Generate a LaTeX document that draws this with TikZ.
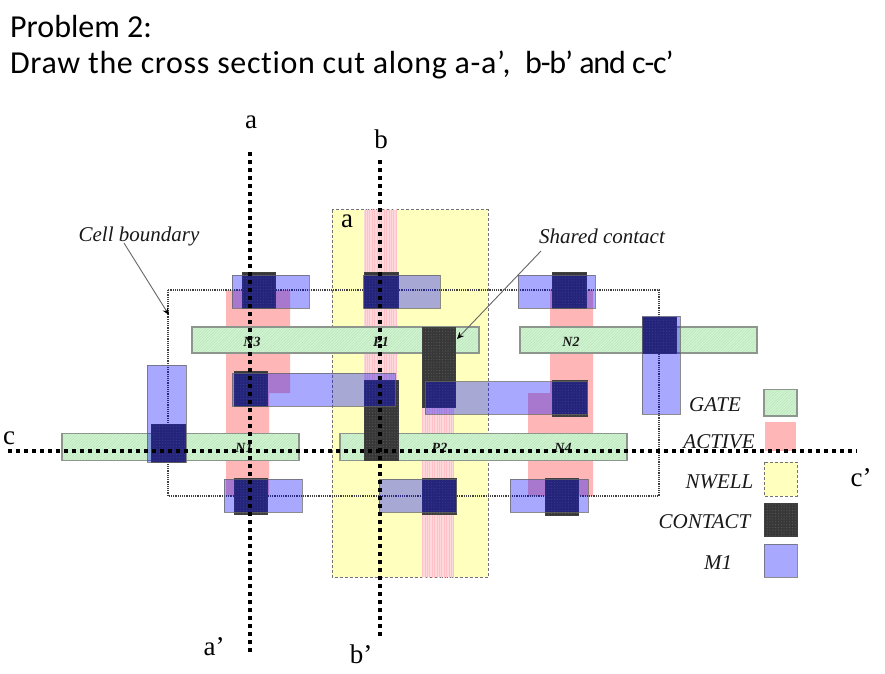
\documentclass[tikz,border=0pt]{standalone}
\usepackage{fontspec}
\setmainfont{Liberation Serif}
\newfontfamily\titlefont[Ligatures=NoCommon]{Carlito}
\newfontfamily\titlewide[Ligatures=NoCommon,LetterSpace=2]{Carlito}
\newfontfamily\titletight[Ligatures=NoCommon,LetterSpace=-3.5]{Carlito}
\usetikzlibrary{patterns.meta,arrows.meta}
\definecolor{gatefill}{HTML}{D2F4D2}
\definecolor{gateline}{HTML}{B6E4B6}
\definecolor{gateedge}{HTML}{8C968C}
\definecolor{nactive}{HTML}{FFB6B6}
\definecolor{pactivefill}{HTML}{FFD8DC}
\definecolor{pactiveline}{HTML}{FFC0C8}
\definecolor{nwellfill}{HTML}{FFFFBE}
\definecolor{contactfill}{HTML}{383838}
\definecolor{contactdots}{HTML}{5C5C5C}
\tikzset{
  x=1pt,y=-1pt,
  gate/.style={draw=gateedge,line width=1.1pt,preaction={fill=gatefill},pattern={Lines[angle=45,distance=2pt,line width=.5pt]},pattern color=gateline},
  nact/.style={fill=nactive},
  pact/.style={preaction={fill=pactivefill},pattern={Lines[angle=90,distance=2.4pt,line width=.6pt]},pattern color=pactiveline},
  nwell/.style={fill=nwellfill,draw=gray!90!black,densely dashed,line width=.8pt},
  contact/.style={draw=black!75,line width=.8pt,preaction={fill=contactfill},pattern={Dots[radius=.55pt,distance=2.8pt]},pattern color=contactdots},
  metal/.style={fill=blue,fill opacity=.34,draw=black!60,draw opacity=.75,line width=1pt},
  boundary/.style={draw=black!75,densely dotted,line width=1.2pt},
  cut/.style={draw=black,line width=4pt,dash pattern=on 4pt off 4pt},
  leader/.style={draw=black!60,line width=.9pt,-{Stealth[length=7pt,width=6pt,color=black]}},
  serif/.style={font=\fontsize{27}{27}\selectfont,text=black,inner sep=0pt},
  ital/.style={font=\fontsize{21}{21}\selectfont\itshape,text=black!90,inner sep=0pt},
  tag/.style={font=\fontsize{14}{14}\selectfont\bfseries\itshape,text=black!90,inner sep=0pt},
  heading/.style={font=\fontsize{32}{32}\selectfont\titlefont,text=black,inner sep=0pt,anchor=base west},
}
\begin{document}
\begin{tikzpicture}
\useasboundingbox (0,0) rectangle (885,673);
\fill[white] (0,0) rectangle (885,673);
% titles
\node[heading] (t1) at (10,37) {Problem 2:};
\node[heading] (t2) at (10,73) {{\titlewide Draw the cross section cut along a-a’,}\ \ {\titletight b-b’ and c-c’}};
% well
\draw[nwell] (332,209.5) rectangle (488,577);
% active
\fill[nact] (226,290) -- (290,290) -- (290,393) -- (269,393) -- (269,496) -- (226,496) -- cycle;
\fill[nact] (550,290) -- (593,290) -- (593,496) -- (528,496) -- (528,393) -- (550,393) -- cycle;
\fill[pact] (364,209.5) rectangle (397,385);
\fill[pact] (422,385) rectangle (454,577);
% boundary
\draw[boundary] (168,290) rectangle (659,496);
% gates
\draw[gate] (192,327) rectangle (479,353);
\draw[gate] (520,327) rectangle (757,353);
\draw[gate] (62,433.5) rectangle (299,460.5);
\draw[gate] (340,433.5) rectangle (627,460.5);
\node[tag] (n3) at (252,341.5) {N3};
\node[tag] (p1) at (381,341.5) {P1};
\node[tag] (n2) at (571,341.5) {N2};
\node[tag] (n1) at (244,448) {N1};
\node[tag] (p2) at (439.5,448) {P2};
\node[tag] (n4) at (563,448) {N4};
% contacts
\draw[contact] (242,272) rectangle (275,308);
\draw[contact] (364,272) rectangle (398,308);
\draw[contact] (552,272) rectangle (586,308);
\draw[contact] (234,371) rectangle (267,406);
\draw[contact] (422,327) rectangle (455,407);
\draw[contact] (364,380) rectangle (398,460);
\draw[contact] (552,380) rectangle (587,416);
\draw[contact] (151,424) rectangle (185,462);
\draw[contact] (642,317) rectangle (676,353);
\draw[contact] (234,478) rectangle (267,514);
\draw[contact] (422,478) rectangle (456,514);
\draw[contact] (545,478) rectangle (578,515);
% metal
\draw[metal] (232,275) rectangle (309,308);
\draw[metal] (363,275) rectangle (440,308);
\draw[metal] (518,275) rectangle (595,308);
\draw[metal] (232,373) rectangle (395,406);
\draw[metal] (425,381.5) rectangle (587,414);
\draw[metal] (147,365) rectangle (186,462);
\draw[metal] (642,316) rectangle (680,414);
\draw[metal] (224,479) rectangle (302,512);
\draw[metal] (379,479) rectangle (456,512);
\draw[metal] (510,479) rectangle (588,512);
% legend
\draw[gate] (764,389.5) rectangle (797,416);
\fill[nact] (765,422) rectangle (796,451);
\draw[nwell] (764,462) rectangle (797,496);
\draw[contact] (764,503) rectangle (797,536);
\draw[metal] (764,544) rectangle (797,577);
\node[ital] (lg) at (715,404.5) {GATE};
\node[ital] (la) at (719,441.5) {ACTIVE};
\node[ital] (ln) at (719.5,481.5) {NWELL};
\node[ital] (lc) at (704.5,522) {CONTACT};
\node[ital] (lm) at (718,563) {M1};
% annotations
\node[ital] (cb) at (139,236) {Cell boundary};
\node[ital] (sc) at (602,236) {Shared contact};
\coordinate (cbtip) at (169,315);
\coordinate (sctip) at (457,339);
\coordinate (cbtail) at (124,243);
\coordinate (sctail) at (541,251);
\draw[leader] (cbtail) -- (cbtip);
\draw[leader] (sctail) -- (sctip);
% cuts
\coordinate (at) at (250,152);
\coordinate (ab) at (250,652);
\coordinate (bt) at (380,160);
\coordinate (bb) at (380,636);
\coordinate (cl) at (8,451);
\coordinate (cr) at (857,451);
\draw[cut] (at) -- (ab);
\draw[cut] (bt) -- (bb);
\draw[cut] (cl) -- (cr);
\node[serif] (la1) at (251,122) {a};
\node[serif] (lb1) at (381,139) {b};
\node[serif] (la3) at (347,221) {a};
\node[serif] (lc1) at (9,438) {c};
\node[serif] (lc2) at (861,478) {c’};
\node[serif] (la2) at (214,647) {a’};
\node[serif] (lb2) at (361,654) {b’};
\end{tikzpicture}
\end{document}
